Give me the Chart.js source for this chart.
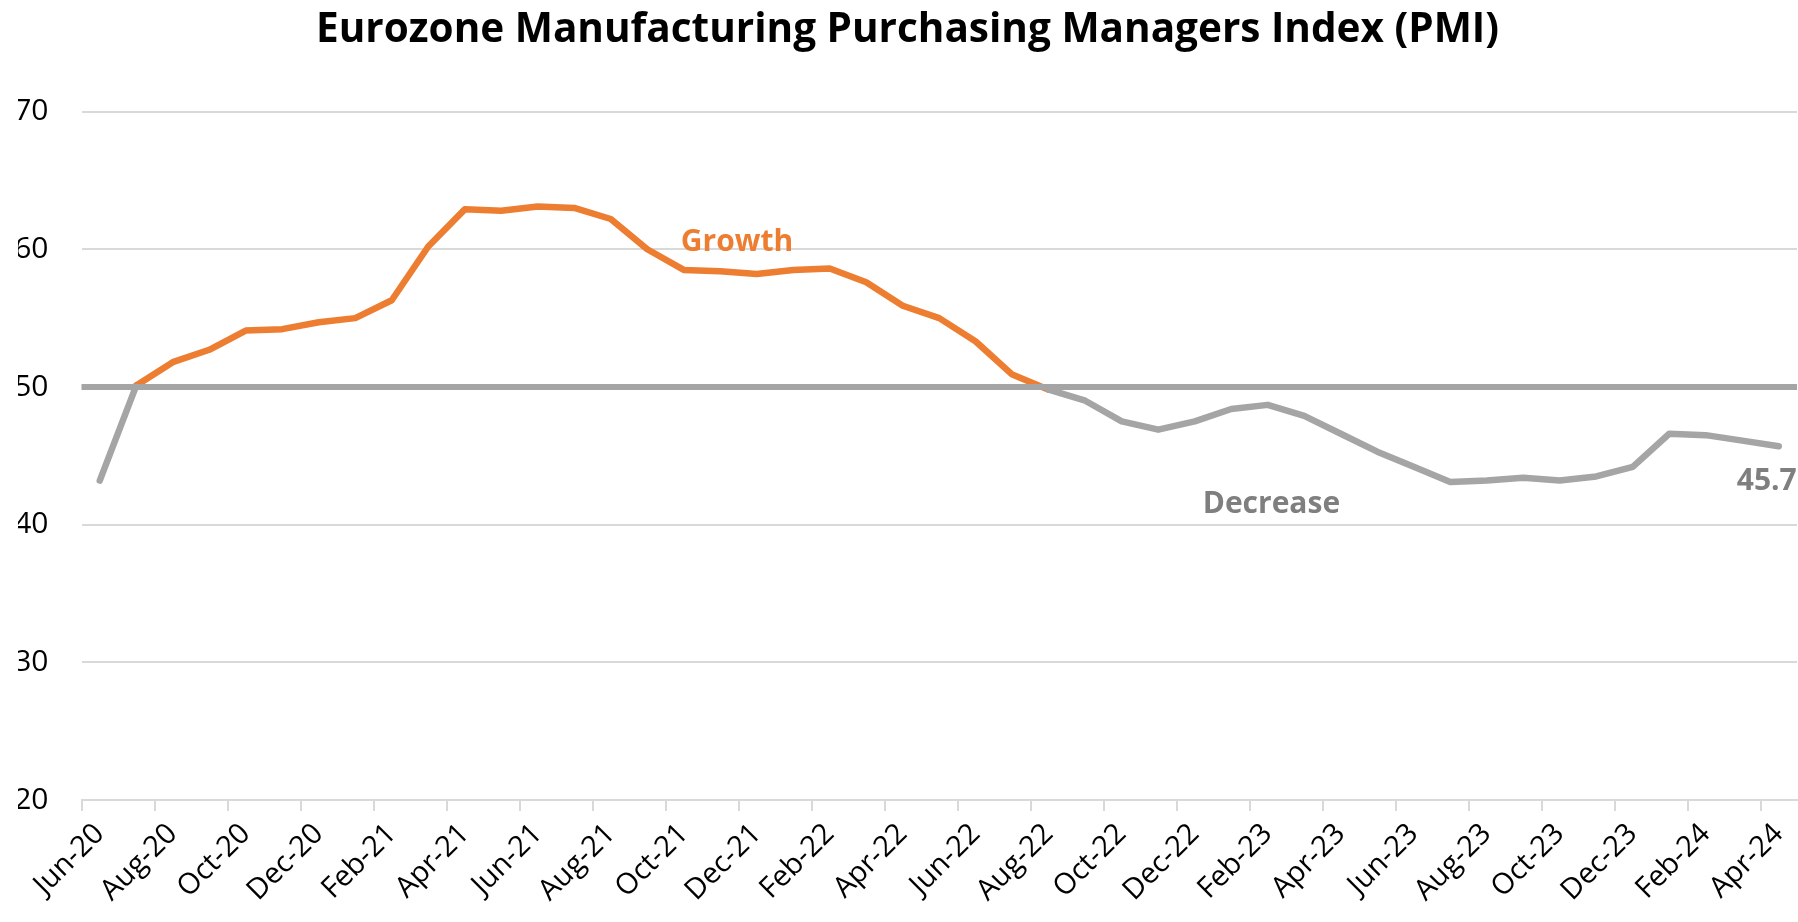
<!DOCTYPE html>
<html>
<head>
<meta charset="utf-8">
<title>Eurozone Manufacturing PMI</title>
<script src="https://cdn.jsdelivr.net/npm/chart.js@4.4.1/dist/chart.umd.min.js"></script>
<style>
    html, body { margin: 0; padding: 0; background: #ffffff; }
    #wrap { width: 1798px; height: 922px; position: relative; }
</style>
</head>
<body>
<div id="wrap"><canvas id="pmiChart"></canvas></div>
<script>
// Monthly categories, Jun-20 .. Apr-24
const months = [
    'Jun-20', 'Jul-20', 'Aug-20', 'Sep-20', 'Oct-20', 'Nov-20', 'Dec-20',
    'Jan-21', 'Feb-21', 'Mar-21', 'Apr-21', 'May-21', 'Jun-21', 'Jul-21', 'Aug-21', 'Sep-21', 'Oct-21', 'Nov-21', 'Dec-21',
    'Jan-22', 'Feb-22', 'Mar-22', 'Apr-22', 'May-22', 'Jun-22', 'Jul-22', 'Aug-22', 'Sep-22', 'Oct-22', 'Nov-22', 'Dec-22',
    'Jan-23', 'Feb-23', 'Mar-23', 'Apr-23', 'May-23', 'Jun-23', 'Jul-23', 'Aug-23', 'Sep-23', 'Oct-23', 'Nov-23', 'Dec-23',
    'Jan-24', 'Feb-24', 'Mar-24', 'Apr-24'
];

// PMI readings
const pmiValues = [
    43.2, 50.1, 51.8, 52.7, 54.1, 54.2, 54.7,
    55.0, 56.3, 60.2, 62.9, 62.8, 63.1, 63.0, 62.2, 60.0, 58.5, 58.4, 58.2,
    58.5, 58.6, 57.6, 55.9, 55.0, 53.3, 50.9, 49.8, 49.0, 47.5, 46.9, 47.5,
    48.4, 48.7, 47.9, 46.6, 45.3, 44.2, 43.1, 43.2, 43.4, 43.2, 43.5, 44.2,
    46.6, 46.5, 46.1, 45.7
];

const threshold = 50;
const yTicks = [20, 30, 40, 50, 60, 70];

const ORANGE = '#ED7D31';
const GRAY = '#A5A5A5';
const TEXT_GRAY = '#7F7F7F';
const GRID = '#D9D9D9';
const FONT = "'Open Sans', 'Noto Sans', sans-serif";

// text notes placed in data space (category index, value)
const notes = [
    { text: 'Growth', at: 17.46, value: 60.5, color: ORANGE },
    { text: 'Decrease', at: 32.1, value: 41.5, color: TEXT_GRAY }
];

const overlayPlugin = {
    id: 'overlay',
    afterDatasetsDraw(chart) {
        const { ctx, chartArea, scales } = chart;
        const x = scales.x, y = scales.y;

        // 50 line across the whole plot
        const y50 = y.getPixelForValue(threshold);
        ctx.save();
        ctx.strokeStyle = GRAY;
        ctx.lineWidth = 6;
        ctx.beginPath();
        ctx.moveTo(chartArea.left, y50);
        ctx.lineTo(chartArea.right, y50);
        ctx.stroke();

        ctx.font = 'bold 30px ' + FONT;
        ctx.textAlign = 'center';
        ctx.textBaseline = 'middle';
        notes.forEach(n => {
            ctx.fillStyle = n.color;
            const px = x.getPixelForValue(0) + n.at * (x.getPixelForValue(1) - x.getPixelForValue(0));
            ctx.fillText(n.text, px, y.getPixelForValue(n.value));
        });

        // last value label
        const last = pmiValues.length - 1;
        const pt = chart.getDatasetMeta(0).data[last];
        ctx.fillStyle = TEXT_GRAY;
        ctx.fillText(pmiValues[last].toFixed(1), pt.x - 12, pt.y + 35);
        ctx.restore();
    }
};

const ctx = document.getElementById('pmiChart').getContext('2d');
new Chart(ctx, {
    type: 'line',
    data: {
        labels: months,
        datasets: [{
            label: 'PMI',
            data: pmiValues,
            borderColor: GRAY,
            borderWidth: 6.5,
            borderCapStyle: 'round',
            borderJoinStyle: 'round',
            pointRadius: 0,
            tension: 0,
            segment: {
                borderColor: c => c.p0.parsed.y >= threshold ? ORANGE : GRAY
            }
        }]
    },
    options: {
        responsive: true,
        maintainAspectRatio: false,
        animation: false,
        layout: { padding: { left: 18, right: 1, top: 0, bottom: 0 } },
        plugins: {
            legend: { display: false },
            tooltip: { enabled: false },
            title: {
                display: true,
                text: 'Eurozone Manufacturing Purchasing Managers Index (PMI)',
                color: '#000000',
                font: { family: FONT, size: 40.5, weight: 'bold' },
                padding: { top: 6, bottom: 57 }
            }
        },
        scales: {
            x: {
                offset: true,
                grid: {
                    offset: true,
                    drawOnChartArea: false,
                    drawTicks: true,
                    tickLength: 11,
                    lineWidth: 2,
                    color: c => c.index % 2 === 0 ? GRID : 'rgba(0,0,0,0)'
                },
                border: { display: true, color: GRID, width: 2 },
                ticks: {
                    autoSkip: false,
                    minRotation: 45,
                    maxRotation: 45,
                    padding: 6,
                    color: '#000000',
                    font: { family: FONT, size: 29 },
                    callback: function (val, index) {
                        return index % 2 === 0 ? this.getLabelForValue(val) : '';
                    }
                },
                afterFit: scale => {
                    scale.height = 122;
                    scale.paddingLeft = 0;
                    scale.paddingRight = 0;
                }
            },
            y: {
                min: 20,
                max: 70,
                afterBuildTicks: scale => { scale.ticks = yTicks.map(v => ({ value: v })); },
                grid: { color: GRID, lineWidth: 2, drawTicks: false },
                border: { display: false },
                ticks: {
                    padding: 33,
                    color: '#000000',
                    font: { family: FONT, size: 30 }
                },
                afterFit: scale => { scale.width = 63.5; }
            }
        }
    },
    plugins: [overlayPlugin]
});
</script>
</body>
</html>
